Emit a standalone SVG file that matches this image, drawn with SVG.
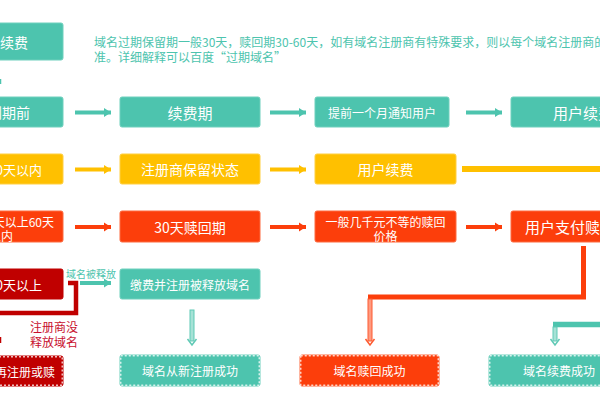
<svg xmlns="http://www.w3.org/2000/svg" width="600" height="400" viewBox="0 0 600 400">
<defs>
<style>
text{font-family:"Noto Sans CJK SC","Noto Sans",sans-serif;fill:#fff;dominant-baseline:central}
.t{fill:#4dc4ae;stroke:#6fd0bd;stroke-width:1}
.y{fill:#ffc000;stroke:#ffcf40;stroke-width:1}
.o{fill:#fc3e0b;stroke:#fd6a40;stroke-width:1}
.r{fill:#c00000;stroke:#c00000;stroke-width:1}
.d{stroke:#fff;stroke-opacity:.75;stroke-width:1.5;stroke-dasharray:2 2}
.f14{font-size:14px}.f15{font-size:15px}.f13{font-size:13px}.f12{font-size:12px}
.c{text-anchor:middle}.e{text-anchor:end}
.ln{fill:none;stroke-width:4}
</style>
<marker id="at" markerUnits="userSpaceOnUse" markerWidth="8" markerHeight="10" refX="7" refY="5" orient="auto"><path d="M0,0.5 L7,5 L0,9.5 z" fill="#4dc4ae"/></marker>
<marker id="ay" markerUnits="userSpaceOnUse" markerWidth="8" markerHeight="10" refX="7" refY="5" orient="auto"><path d="M0,0.5 L7,5 L0,9.5 z" fill="#ffc000"/></marker>
<marker id="ao" markerUnits="userSpaceOnUse" markerWidth="8" markerHeight="10" refX="7" refY="5" orient="auto"><path d="M0,0.5 L7,5 L0,9.5 z" fill="#fc3e0b"/></marker>
</defs>

<!-- header -->
<g id="top-renew">
<rect class="t" x="-10" y="23" width="73" height="37" rx="2"/>
<text class="f14 e" x="28" y="41.5">续费</text>
</g>
<g id="note">
<text class="f12" x="94" y="41" style="fill:#4dc4ae">域名过期保留期一般30天，赎回期30-60天，如有域名注册商有特殊要求，则以每个域名注册商的</text>
<text class="f12" x="94" y="56" style="fill:#4dc4ae">准。详细解释可以百度“过期域名”</text>
</g>

<!-- row 1 -->
<g id="r1-before"><rect class="t" x="-10" y="97" width="73" height="30" rx="2"/><text class="f14 e" x="30" y="112">到期前</text></g>
<g id="r1-period"><rect class="t" x="120" y="97" width="140" height="30" rx="2"/><text class="f15 c" x="190" y="112">续费期</text></g>
<g id="r1-notify"><rect class="t" x="315" y="97" width="134" height="30" rx="2"/><text class="f12 c" x="382" y="112">提前一个月通知用户</text></g>
<g id="r1-renew"><rect class="t" x="511" y="97" width="100" height="30" rx="2"/><text class="f15" x="553" y="112">用户续费</text></g>

<!-- row 2 -->
<g id="r2-30"><rect class="y" x="-10" y="154" width="73" height="30" rx="2"/><text class="f13 e" x="42" y="169">30天以内</text></g>
<g id="r2-keep"><rect class="y" x="120" y="154" width="140" height="30" rx="2"/><text class="f14 c" x="190" y="169">注册商保留状态</text></g>
<g id="r2-renew"><rect class="y" x="315" y="154" width="141" height="30" rx="2"/><text class="f14 c" x="385.5" y="169">用户续费</text></g>

<!-- row 3 -->
<g id="r3-3060"><rect class="o" x="-10" y="211" width="73" height="31" rx="2"/><text class="f12 e" x="54" y="221.5">30天以上60天</text><text class="f12 e" x="13" y="235.5">以内</text></g>
<g id="r3-redeem"><rect class="o" x="120" y="211" width="140" height="31" rx="2"/><text class="f14 c" x="190" y="226.5">30天赎回期</text></g>
<g id="r3-price"><rect class="o" x="315" y="211" width="141" height="31" rx="2"/><text class="f12 c" x="385.5" y="221">一般几千元不等的赎回</text><text class="f12 c" x="385.5" y="235.5">价格</text></g>
<g id="r3-pay"><rect class="o" x="511" y="211" width="100" height="31" rx="2"/><text class="f15" x="525" y="226.5">用户支付赎买</text></g>

<!-- row 4 -->
<g id="r4-60"><rect class="r" x="-10" y="269" width="73" height="30" rx="2"/><text class="f13 e" x="42" y="284">60天以上</text></g>
<g id="r4-reg"><rect class="t" x="120" y="269" width="140" height="30" rx="2"/><text class="f12 c" x="190" y="284">缴费并注册被释放域名</text></g>

<!-- bottom -->
<g id="b-left"><rect class="r" x="-10" y="356" width="73" height="30" rx="2"/><rect class="d" x="-9" y="356.75" width="71.25" height="28.5" fill="none"/><text class="f12 e" x="55" y="371">域名再注册或赎</text></g>
<g id="b-reg"><rect class="t" x="120" y="355" width="140" height="31" rx="2"/><rect class="d" x="120.75" y="355.75" width="138.5" height="29.5" fill="none"/><text class="f12 c" x="190" y="370.5">域名从新注册成功</text></g>
<g id="b-redeem"><rect class="o" x="300" y="355" width="139" height="31" rx="2"/><rect class="d" x="300.75" y="355.75" width="137.5" height="29.5" fill="none"/><text class="f12 c" x="369.5" y="370.5">域名赎回成功</text></g>
<g id="b-renew"><rect class="t" x="489" y="355" width="130" height="31" rx="2"/><rect class="d" x="489.75" y="355.75" width="128.5" height="29.5" fill="none"/><text class="f12" x="523" y="370.5">域名续费成功</text></g>

<!-- labels -->
<g id="labels">
<text x="91" y="273" style="font-size:10px;fill:#4dc4ae;text-anchor:middle">域名被释放</text>
<text x="54" y="326" class="f12 c" style="fill:#c8102e">注册商没</text>
<text x="54" y="341" class="f12 c" style="fill:#c8102e">释放域名</text>
</g>

<g id="connectors">
<!-- row 1 -->
<line class="ln" stroke="#4dc4ae" x1="75" y1="112.5" x2="111" y2="112.5" marker-end="url(#at)"/>
<line class="ln" stroke="#4dc4ae" x1="270" y1="112.5" x2="306" y2="112.5" marker-end="url(#at)"/>
<line class="ln" stroke="#4dc4ae" x1="466" y1="112.5" x2="502" y2="112.5" marker-end="url(#at)"/>
<!-- row 2 -->
<line class="ln" stroke="#ffc000" x1="75" y1="169.5" x2="111" y2="169.5" marker-end="url(#ay)"/>
<line class="ln" stroke="#ffc000" x1="270" y1="169.5" x2="306" y2="169.5" marker-end="url(#ay)"/>
<line stroke="#ffc000" stroke-width="6" x1="462" y1="169" x2="600" y2="169"/>
<!-- row 3 -->
<line class="ln" stroke="#fc3e0b" x1="75" y1="227" x2="111" y2="227" marker-end="url(#ao)"/>
<line class="ln" stroke="#fc3e0b" x1="270" y1="227" x2="306" y2="227" marker-end="url(#ao)"/>
<line class="ln" stroke="#fc3e0b" x1="466" y1="227" x2="502" y2="227" marker-end="url(#ao)"/>
<path d="M583.5,246 V297 H368" fill="none" stroke="#fc3e0b" stroke-width="5"/>
<!-- row 4 -->
<path d="M68,283 H76 V313 H-5" fill="none" stroke="#c00000" stroke-width="4.5"/>
<line class="ln" stroke="#4dc4ae" x1="80" y1="283" x2="111" y2="283" marker-end="url(#at)"/>
<line stroke="#4dc4ae" stroke-width="5.5" x1="553" y1="324.5" x2="600" y2="324.5"/>
<!-- light down arrows -->
<rect x="190" y="310" width="4" height="31" fill="#a6e2d6" stroke="#5fc9b5" stroke-width="1"/>
<path d="M187.5,339 L192,345 L196.5,339" fill="none" stroke="#5fc9b5" stroke-width="1.5"/>
<rect x="368" y="299" width="4" height="42" fill="#ff9a80" stroke="#fd5a30" stroke-width="1"/>
<path d="M365.5,339 L370,345 L374.5,339" fill="none" stroke="#fd5a30" stroke-width="1.5"/>
<rect x="553" y="327" width="4" height="14" fill="#a6e2d6" stroke="#5fc9b5" stroke-width="1"/>
<path d="M550.5,339 L555,345 L559.5,339" fill="none" stroke="#5fc9b5" stroke-width="1.5"/>
<!-- clipped fragments at left edge -->
<line x1="0.5" y1="79" x2="0.5" y2="84" stroke="#4dc4ae" stroke-width="1.5"/>
<line x1="0.5" y1="337" x2="0.5" y2="343" stroke="#c00000" stroke-width="1.5"/>
</g>
</svg>
